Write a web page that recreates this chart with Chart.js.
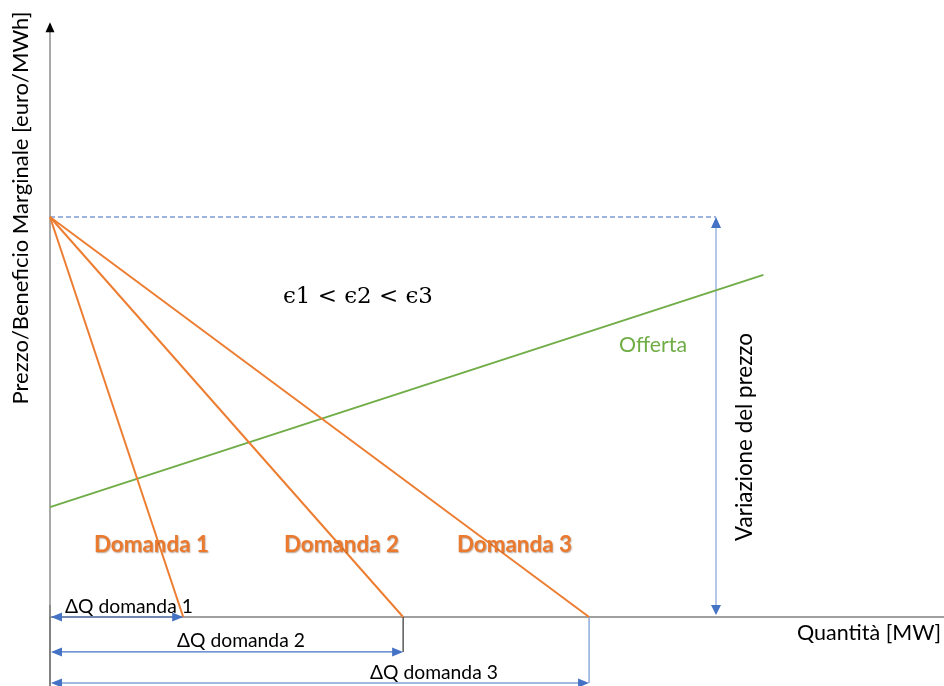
<!DOCTYPE html>
<html>
<head>
<meta charset="utf-8">
<script src="https://cdn.jsdelivr.net/npm/chart.js@4/dist/chart.umd.min.js"></script>
<style>
html,body{margin:0;padding:0;background:#fff;}
#wrap{width:944px;height:686px;}
</style>
</head>
<body>
<div id="wrap"><canvas id="c" width="944" height="686"></canvas></div>
<script>
// ---- data (schematic units) ----
const demandLabels = ['Domanda 1', 'Domanda 2', 'Domanda 3'];
const demandQuantities = [14.9, 39.5, 60.3];      // quantity intercepts of the demand curves
const priceIntercept = 67.0;                       // common price intercept
const supplyQ = [0, 79.8];
const supplyP = [18.4, 57.3];
const deltaQLabels = ['ΔQ domanda 1', 'ΔQ domanda 2', 'ΔQ domanda 3'];
const deltaQLevels = [0, -5.86, -11.06];           // vertical level of ΔQ arrows
const variationQ = 74.5;                           // position of "Variazione del prezzo" arrow
const axisQMax = 100;
const axisPMax = 99.3;
const xRange = [-5.593, 100];
const yRange = [-11.56, 103.35];

const ORANGE = '#ED7D31', GREEN = '#70AD47', BLUE = '#4472C4', LBLUE = '#8FAADC', LLBLUE = '#B4C7E7';

function seg(data, color, width, extra) {
  return Object.assign({data, borderColor: color, borderWidth: width, showLine: true,
    pointRadius: 0, pointHoverRadius: 0, fill: false, tension: 0}, extra || {});
}

const datasets = [];
demandQuantities.forEach(q => datasets.push(seg([{x:0,y:priceIntercept},{x:q,y:0}], ORANGE, 2)));
datasets.push(seg([{x:supplyQ[0],y:supplyP[0]},{x:supplyQ[1],y:supplyP[1]}], GREEN, 2));
datasets.push(seg([{x:0,y:priceIntercept},{x:variationQ,y:priceIntercept}], '#7C9CD4', 1.3, {borderDash:[5,3]}));
datasets.push(seg([{x:variationQ,y:0.6},{x:variationQ,y:priceIntercept-0.6}], LLBLUE, 2));
demandQuantities.forEach((q,i) => datasets.push(seg([{x:0.3,y:deltaQLevels[i]},{x:q-0.3,y:deltaQLevels[i]}], BLUE, 1.2)));
// extension lines
datasets.push(seg([{x:demandQuantities[1],y:0},{x:demandQuantities[1],y:deltaQLevels[1]}], '#404040', 1.3));
datasets.push(seg([{x:demandQuantities[2],y:0},{x:demandQuantities[2],y:deltaQLevels[2]}], LBLUE, 1.5));
// axes
datasets.push(seg([{x:0,y:0},{x:axisQMax,y:0}], '#7F7F7F', 1.5));
datasets.push(seg([{x:0,y:0},{x:0,y:axisPMax}], '#8C8C8C', 1.5));
datasets.push(seg([{x:0,y:2},{x:0,y:yRange[0]}], '#595959', 1.5));

function tri(ctx, tx, ty, dirx, diry, len, half, color) {
  const bx = tx - dirx*len, by = ty - diry*len;
  const px = -diry, py = dirx;
  ctx.beginPath();
  ctx.moveTo(tx, ty);
  ctx.lineTo(bx + px*half, by + py*half);
  ctx.lineTo(bx - px*half, by - py*half);
  ctx.closePath();
  ctx.fillStyle = color; ctx.fill();
}

function fitText(ctx, text, family, weight, targetW, style) {
  let size = 20;
  ctx.font = (style||'') + ' ' + weight + ' ' + size + 'px ' + family;
  const w = ctx.measureText(text).width;
  size = size * targetW / w;
  ctx.font = (style||'') + ' ' + weight + ' ' + size.toFixed(2) + 'px ' + family;
  return size;
}

const overlay = {
  id: 'overlay',
  afterDatasetsDraw(chart) {
    const ctx = chart.ctx, xs = chart.scales.x, ys = chart.scales.y;
    const X = v => xs.getPixelForValue(v), Y = v => ys.getPixelForValue(v);
    ctx.save();
    // y-axis arrow
    tri(ctx, X(0), Y(axisPMax)-2, 0, -1, 10, 4.5, '#000');
    // variation arrow heads
    tri(ctx, X(variationQ), Y(priceIntercept), 0, -1, 11, 5, BLUE);
    tri(ctx, X(variationQ), Y(0)-2, 0, 1, 10, 5, BLUE);
    // ΔQ arrow heads
    demandQuantities.forEach((q,i) => {
      const y = Y(deltaQLevels[i]);
      tri(ctx, X(0)+1, y, -1, 0, 11, 4.5, BLUE);
      tri(ctx, X(q), y, 1, 0, 11, 4.5, BLUE);
    });
    const SANS = 'Lato, "Open Sans", sans-serif';
    ctx.textAlign = 'left'; ctx.textBaseline = 'alphabetic';
    // ΔQ labels
    const dqLeft = [65, 177, 370], dqBase = [613, 647, 679];
    deltaQLabels.forEach((t,i) => {
      fitText(ctx, t, SANS, 'normal', 128);
      ctx.fillStyle = '#000';
      ctx.fillText(t, dqLeft[i], dqBase[i]);
    });
    // Domanda labels
    const dLeft = [94, 284, 457];
    demandLabels.forEach((t,i) => {
      fitText(ctx, t, SANS, 'bold', 115);
      ctx.save();
      ctx.shadowColor = 'rgba(90,40,0,0.45)'; ctx.shadowBlur = 1.5; ctx.shadowOffsetX = 0.8; ctx.shadowOffsetY = 0.8;
      ctx.fillStyle = '#EB7A2E';
      ctx.fillText(t, dLeft[i], 552);
      ctx.restore();
    });
    // Offerta
    fitText(ctx, 'Offerta', SANS, 'normal', 68);
    ctx.fillStyle = GREEN; ctx.fillText('Offerta', 619, 352);
    // epsilon relation
    fitText(ctx, 'ϵ1 < ϵ2 < ϵ3', '"DejaVu Serif", "Liberation Serif", serif', 'normal', 150);
    ctx.fillStyle = '#000'; ctx.fillText('ϵ1 < ϵ2 < ϵ3', 283, 303);
    // x axis title
    fitText(ctx, 'Quantità [MW]', SANS, 'normal', 144);
    ctx.fillText('Quantità [MW]', 797, 640);
    // y axis title (rotated)
    ctx.save();
    ctx.translate(28, 208); ctx.rotate(-Math.PI/2);
    ctx.textAlign = 'center';
    fitText(ctx, 'Prezzo/Beneficio Marginale [euro/MWh]', SANS, 'normal', 393);
    ctx.fillText('Prezzo/Beneficio Marginale [euro/MWh]', 0, 0);
    ctx.restore();
    // Variazione del prezzo (rotated)
    ctx.save();
    ctx.translate(752, 437); ctx.rotate(-Math.PI/2);
    ctx.textAlign = 'center';
    fitText(ctx, 'Variazione del prezzo', SANS, 'normal', 208);
    ctx.fillText('Variazione del prezzo', 0, 0);
    ctx.restore();
    ctx.restore();
  }
};

new Chart(document.getElementById('c'), {
  type: 'scatter',
  data: { datasets },
  options: {
    responsive: false,
    animation: false,
    devicePixelRatio: 1,
    layout: { padding: 0 },
    plugins: { legend: { display: false }, tooltip: { enabled: false } },
    events: [],
    scales: {
      x: { type: 'linear', display: false, min: xRange[0], max: xRange[1] },
      y: { type: 'linear', display: false, min: yRange[0], max: yRange[1] }
    }
  },
  plugins: [overlay]
});
</script>
</body>
</html>
